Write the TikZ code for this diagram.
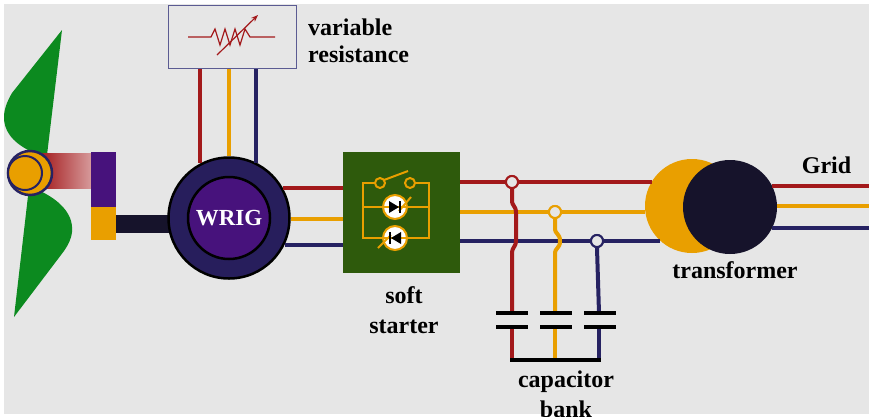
\documentclass[tikz,border=0pt]{standalone}
\usepackage{fontspec}
\setmainfont{Liberation Serif}
\usetikzlibrary{positioning}
\usetikzlibrary{arrows.meta}

\definecolor{bgray}{HTML}{E6E6E6}
\definecolor{wred}{HTML}{A3191B}
\definecolor{worange}{HTML}{E99F00}
\definecolor{wnavy}{HTML}{262262}
\definecolor{blade}{HTML}{0C8A1F}
\definecolor{rotor}{HTML}{47127C}
\definecolor{stator}{HTML}{271E5C}
\definecolor{shaft}{HTML}{16132B}
\definecolor{starter}{HTML}{2E5A0C}
\definecolor{boxline}{HTML}{5B5B92}

\tikzset{
  wire/.style={line width=4pt},
  lbl/.style={font=\bfseries\fontsize{24}{28}\selectfont, inner sep=0pt},
  tap/.style={circle, draw, line width=2pt, fill=bgray, minimum size=12pt, inner sep=0pt},
  plate/.style={line width=4pt, black},
}

\begin{document}
\begin{tikzpicture}[x=1pt, y=-1pt]
  \useasboundingbox (0,0) rectangle (869,416);
  \fill[white] (0,0) rectangle (869,416);
  \fill[bgray] (4,4) rectangle (869,414);

  % turbine blades
  \fill[blade] (62,30) -- (47,155) -- (30,151) .. controls (12,142) and (3,130) .. (4,115)
    .. controls (5,106) and (8,100) .. (12,93) -- cycle;
  \fill[blade] (38,190) .. controls (56,198) and (74,212) .. (72,232)
    .. controls (71,240) and (68,245) .. (64,251) -- (14,317) -- (28,196) -- cycle;

  % shaft and gearbox
  \shade[left color=wred, right color=wred!30] (40,153) rectangle (104,188);
  \fill[rotor] (91,152) rectangle (116,207);
  \fill[worange] (91,207) rectangle (116,240);
  \fill[shaft] (116,215) rectangle (175,233);
  \draw[wnavy, line width=2.5pt, fill=worange] (30,173) circle (22pt);
  \draw[wnavy, line width=2pt, fill=worange] (25,173) circle (17pt);

  % generator
  \node[circle, fill=stator, draw=black, line width=2.5pt, minimum size=121pt, inner sep=0pt] (gen) at (229,218) {};
  \node[circle, fill=rotor, draw=black, line width=2.5pt, minimum size=82pt, inner sep=0pt,
    text=white, font=\bfseries\fontsize{23}{23}\selectfont] (rotorcore) at (gen.center) {WRIG};

  % variable resistance
  \node[draw=boxline, line width=1.2pt, minimum width=128pt, minimum height=63pt, inner sep=0pt] (res) at (232.5,37) {};
  \draw[wred, line width=1.2pt] (188,37) -- (211,37) -- (215,29) -- (220,45) -- (225,29) -- (230,45)
    -- (235,29) -- (240,45) -- (245,29) -- (250,37) -- (275,37);
  \draw[wred, line width=1.2pt, -{Stealth[length=7pt]}] (217,55) -- (258,15);
  \node[lbl, anchor=north west, align=left, font=\bfseries\fontsize{24}{27}\selectfont] (reslbl) at (308,19) {variable\\resistance};

  \foreach \a/\c in {118/wred, 90/worange, 64/wnavy}
    \draw[wire, \c] (gen.\a |- res.south) -- (gen.\a);

  % soft starter
  \node[fill=starter, minimum width=117pt, minimum height=121pt, inner sep=0pt] (soft) at (401.5,212.5) {};
  \node[lbl, align=center, font=\bfseries\fontsize{24}{30}\selectfont, below=13pt of soft.south, xshift=2.5pt] (softlbl) {soft\\starter};

  \foreach \a/\c in {29/wred, -1/worange, -26/wnavy}
    \draw[wire, \c] (gen.\a) -- (gen.\a -| soft.west);

  \begin{scope}[worange, line width=2pt]
    \draw (375,183) -- (363,183) -- (363,238) -- (429,238) -- (429,183) -- (415,183);
    \draw (380,183) circle (5pt);
    \draw (410,183) circle (5pt);
    \draw (384,180) -- (408,171);
    \draw[fill=white] (395,207) circle (12pt);
    \draw[fill=white] (395,238) circle (12pt);
    \draw (363,207) -- (429,207);
    \draw (363,238) -- (429,238);
    \draw (399,211) -- (411,197);
    \draw (391,235) -- (378,248);
  \end{scope}
  \fill (389,201) -- (389,213) -- (399,207) -- cycle;
  \draw[line width=1.5pt] (400,201) -- (400,213);
  \fill (401,232) -- (401,244) -- (391,238) -- cycle;
  \draw[line width=1.5pt] (390,232) -- (390,244);

  % transformer
  \node[circle, fill=worange, minimum size=94pt, inner sep=0pt] (trA) at (692,206) {};
  \node[circle, fill=shaft, minimum size=94pt, inner sep=0pt] (trB) at (730,207) {};
  \node[lbl, anchor=base] (trlbl) at (735,278) {transformer};

  % lines to the transformer, with taps for the capacitors
  \node[tap, draw=wred] (tapR) at (512,182) {};
  \node[tap, draw=worange] (tapO) at (555,212) {};
  \node[tap, draw=wnavy] (tapN) at (597,241) {};
  \foreach \t/\a/\c in {tapR/149/wred, tapO/187/worange, tapN/228/wnavy} {
    \draw[wire, \c] (soft.east |- \t) -- (\t.west);
    \draw[wire, \c] (\t.east) -- (\t.east -| trA.\a);
  }

  % grid side
  \coordinate (grid) at (869,206);
  \node[lbl, anchor=base] (gridlbl) at (826.5,173) {Grid};
  \foreach \a/\c in {27/wred, 1/worange, -26/wnavy}
    \draw[wire, \c] (trB.\a) -- (trB.\a -| grid);

  % capacitor bank
  \draw[wire, worange] (tapO.south) -- (555,228) .. controls (555,235) and (560,233) .. (560,241)
    .. controls (560,249) and (555,247) .. (555,254) -- (555,313);
  \draw[wire, wnavy] (tapN.south) -- (599,313);
  \draw[wire, wred] (tapR.south) -- (512,200) .. controls (512,207) and (516,205) .. (516,213)
    -- (516,240) .. controls (516,248) and (512,246) .. (512,254) -- (512,313);
  \draw[wire, wred] (512,327) -- (512,360);
  \draw[wire, worange] (555,327) -- (555,360);
  \draw[wire, wnavy] (599,327) -- (599,360);
  \foreach \x in {512,556,600} {
    \draw[plate] (\x-16,313) -- (\x+16,313);
    \draw[plate] (\x-16,327) -- (\x+16,327);
  }
  \draw[plate] (510,360) -- (601,360);
  \node[lbl, anchor=north, align=center, font=\bfseries\fontsize{24}{30}\selectfont] (caplbl) at (566,371) {capacitor\\bank};

  % tap rings on top
  \node[tap, draw=wred] at (tapR) {};
  \node[tap, draw=worange] at (tapO) {};
  \node[tap, draw=wnavy] at (tapN) {};
\end{tikzpicture}
\end{document}
